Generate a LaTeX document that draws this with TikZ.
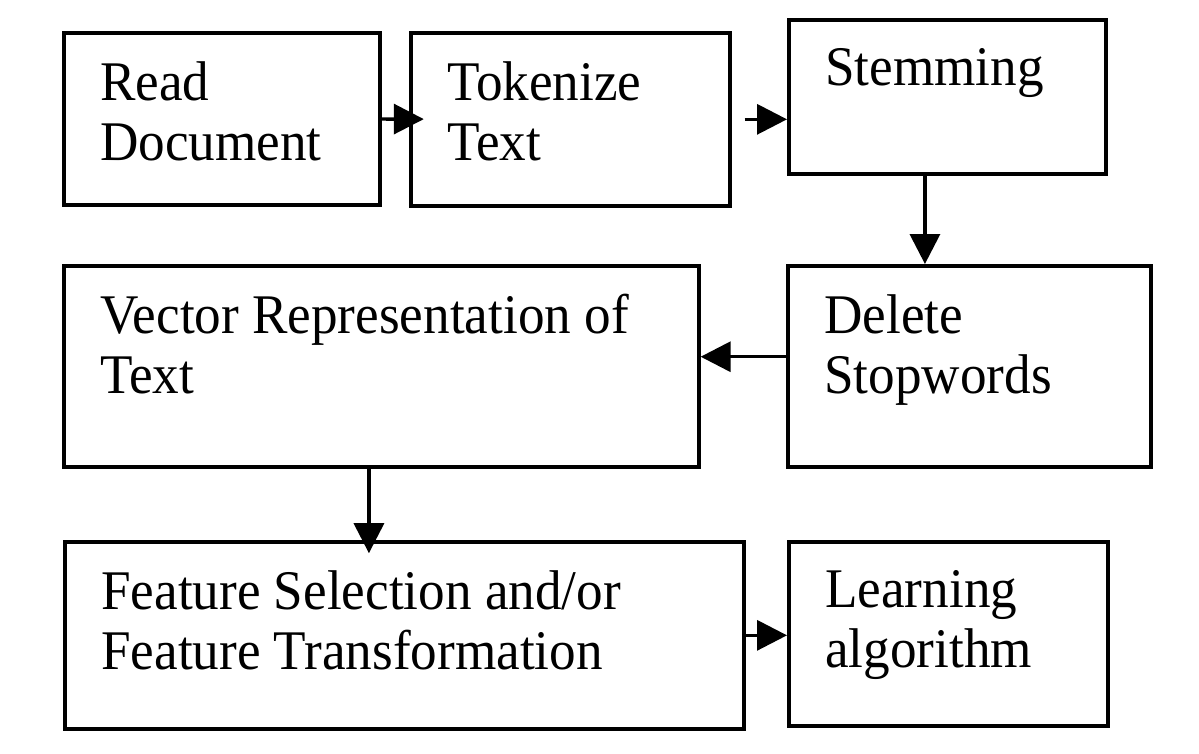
\documentclass[tikz,border=0pt]{standalone}
\usepackage{fontspec}
\setmainfont{Liberation Serif}[FakeStretch=0.95]
\usetikzlibrary{positioning,arrows.meta}

\tikzset{
	box/.style={draw, line width=2.6pt, anchor=north west, inner sep=0pt},
	lbl/.style={align=left, inner sep=0pt, font=\fontsize{39.8}{42.7}\selectfont, below right=0.75cm and 0.95cm of #1},
	arr/.style={line width=2.4pt, -{Triangle[length=0.75cm, width=0.75cm]}},
}

\begin{document}
\begin{tikzpicture}
	\useasboundingbox (0,0) rectangle (29.975,-18.825);
	
	\node[box, minimum width=7.9cm, minimum height=4.3cm] (rd) at (1.55,-0.775) {};
	\node[box, minimum width=7.975cm, minimum height=4.325cm] (tok) at (10.225,-0.775) {};
	\node[box, minimum width=7.925cm, minimum height=3.85cm] (stem) at (19.675,-0.45) {};
	\node[box, minimum width=9.075cm, minimum height=5.025cm] (del) at (19.65,-6.6) {};
	\node[box, minimum width=15.875cm, minimum height=5.025cm] (vec) at (1.55,-6.6) {};
	\node[box, minimum width=16.975cm, minimum height=4.675cm] (feat) at (1.575,-13.5) {};
	\node[box, minimum width=7.975cm, minimum height=4.6cm] (learn) at (19.675,-13.5) {};
	
	\node[lbl=rd.north west] (rdtxt) {Read\\Document};
	\node[lbl=tok.north west] (toktxt) {Tokenize\\Text};
	\node[lbl=stem.north west] (stemtxt) {Stemming};
	\node[lbl=del.north west] (deltxt) {Delete\\Stopwords};
	\node[lbl=vec.north west] (vectxt) {Vector Representation of\\Text};
	\node[lbl=feat.north west] (feattxt) {Feature Selection and/or\\Feature Transformation};
	\node[lbl=learn.north west] (learntxt) {Learning\\algorithm};
	
	\draw[arr, shorten >=-0.37cm] (rd) -- (tok);
	\draw[arr] ([xshift=0.325cm]tok.east) -- (stem.west |- tok.east);
	\draw[arr] ([xshift=-0.56cm]stem.south) -- ([xshift=-0.56cm]stem.south |- del.north);
	\draw[arr] ([yshift=0.24cm]del.west) -- ([yshift=0.24cm]vec.east);
	\draw[arr, shorten >=-0.33cm] ([xshift=-0.31cm]vec.south) -- ([xshift=-0.31cm]vec.south |- feat.north);
	\draw[arr] (feat.east) -- (learn.west |- feat.east);
\end{tikzpicture}
\end{document}
